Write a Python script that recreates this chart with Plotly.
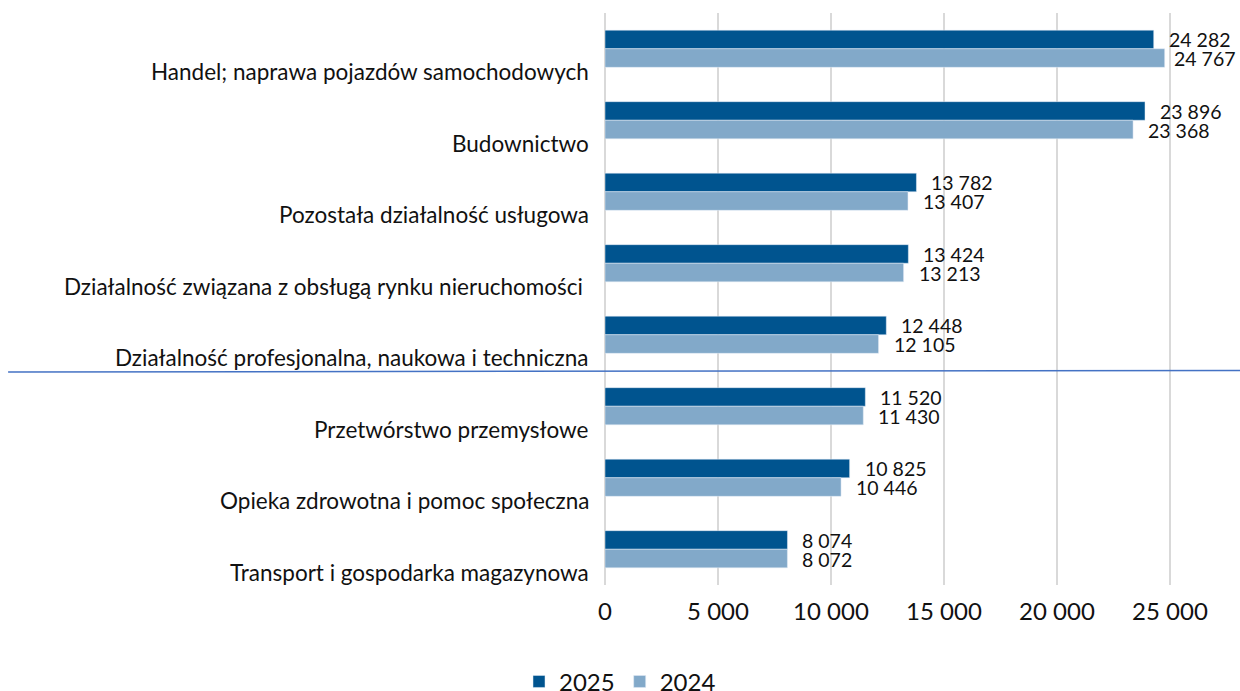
import plotly.graph_objects as go

categories = [
    "Handel; naprawa pojazdów samochodowych",
    "Budownictwo",
    "Pozostała działalność usługowa",
    "Działalność związana z obsługą rynku nieruchomości ",
    "Działalność profesjonalna, naukowa i techniczna",
    "Przetwórstwo przemysłowe",
    "Opieka zdrowotna i pomoc społeczna",
    "Transport i gospodarka magazynowa",
]
values_2025 = [24282, 23896, 13782, 13424, 12448, 11520, 10825, 8074]
values_2024 = [24767, 23368, 13407, 13213, 12105, 11430, 10446, 8072]

FONT = "Lato, 'Open Sans', sans-serif"
DARK = "#00548f"
LIGHT = "#82a9c9"


def fmt(v):
    return f"{v:,d}".replace(",", " ")


fig = go.Figure()
fig.add_trace(go.Bar(
    y=categories, x=values_2025, name="2025", orientation="h",
    marker=dict(color=DARK),
))
fig.add_trace(go.Bar(
    y=categories, x=values_2024, name="2024", orientation="h",
    marker=dict(color=LIGHT),
))

# value labels right of each bar (pulled in at the right edge, as Excel does)
for cat, v25, v24 in zip(categories, values_2025, values_2024):
    for val, dy in ((v25, 9), (v24, -10)):
        font = dict(family=FONT, size=19.5, color="#111111")
        if val > 24500:
            fig.add_annotation(
                x=1, xref="paper", y=cat, xanchor="right", yanchor="middle",
                xshift=-2, yshift=dy, text=fmt(val), showarrow=False, font=font,
            )
        else:
            fig.add_annotation(
                x=val, y=cat, xanchor="left", yanchor="middle",
                xshift=13, yshift=dy, text=fmt(val), showarrow=False, font=font,
            )

# category labels sit low in each band, like the original
for cat in categories:
    fig.add_annotation(
        x=0, xref="paper", xshift=-14, y=cat, yref="y", yshift=-23,
        text=cat, showarrow=False, xanchor="right", yanchor="middle",
        font=dict(family=FONT, size=22.5, color="#111111"),
    )

# blue separator line between groups
fig.add_shape(
    type="line", xref="paper", yref="y",
    x0=-0.94, x1=1.0, y0=4.52, y1=4.5,
    line=dict(color="#4472c4", width=1.5),
)

fig.update_layout(
    width=1240, height=691,
    paper_bgcolor="white", plot_bgcolor="white",
    font=dict(family=FONT, size=20, color="#111111"),
    separators=", ",
    barmode="group", bargap=0.48, bargroupgap=0,
    margin=dict(l=605, r=0, t=13, b=106, autoexpand=False),
    showlegend=True,
    legend=dict(
        orientation="h", x=0.5, xref="container", xanchor="center",
        y=-0.13, yref="paper", yanchor="top",
        font=dict(size=24), itemwidth=30, traceorder="normal",
    ),
    xaxis=dict(
        range=[0, 28100], tick0=0, dtick=5000, tickformat=",d",
        showgrid=True, gridcolor="#d9d9d9", gridwidth=2,
        zeroline=True, zerolinecolor="#d9d9d9", zerolinewidth=2,
        showline=False, ticks="", tickfont=dict(size=24),
        ticklabelstandoff=10,
    ),
    yaxis=dict(
        range=[len(categories) - 0.5, -0.5], showticklabels=False, ticks="",
        showgrid=False, zeroline=False, showline=False,
    ),
)

fig.write_html(
    "out.html",
    config={"displayModeBar": False},
    post_script="document.body.style.margin = '0';",
)
